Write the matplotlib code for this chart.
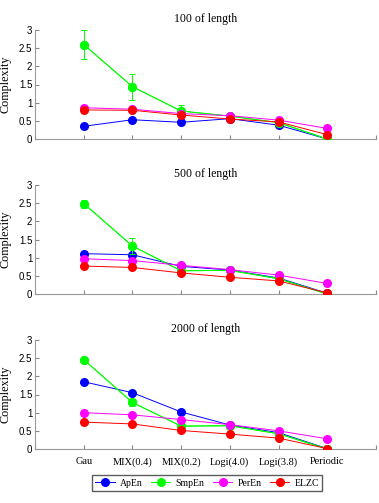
import matplotlib
matplotlib.use("Agg")
import matplotlib.pyplot as plt
import numpy as np

categories = ["Gau", "MIX(0.4)", "MIX(0.2)", "Logi(4.0)", "Logi(3.8)", "Periodic"]
titles = ["100 of length", "500 of length", "2000 of length"]
series_names = ["ApEn", "SmpEn", "PerEn", "ELZC"]
colors = ["#0000ff", "#00ff00", "#ff00ff", "#ff0000"]

apen_100 = [0.35, 0.53, 0.46, 0.56, 0.38, 0.00]
smpen_100 = [2.60, 1.44, 0.77, 0.63, 0.45, 0.00]
peren_100 = [0.86, 0.82, 0.70, 0.64, 0.52, 0.29]
elzc_100 = [0.80, 0.79, 0.66, 0.55, 0.47, 0.12]
smpen_err_100 = [0.40, 0.36, 0.17, 0.03, 0.02, 0.0]

apen_500 = [1.11, 1.08, 0.76, 0.66, 0.44, 0.02]
smpen_500 = [2.49, 1.32, 0.64, 0.65, 0.42, 0.00]
peren_500 = [0.97, 0.92, 0.79, 0.67, 0.52, 0.29]
elzc_500 = [0.77, 0.73, 0.58, 0.46, 0.36, 0.03]
smpen_err_500 = [0.11, 0.22, 0.04, 0.02, 0.02, 0.0]

apen_2000 = [1.85, 1.55, 1.02, 0.66, 0.45, 0.01]
smpen_2000 = [2.46, 1.28, 0.63, 0.64, 0.42, 0.00]
peren_2000 = [1.00, 0.94, 0.81, 0.67, 0.50, 0.28]
elzc_2000 = [0.74, 0.69, 0.51, 0.41, 0.30, 0.01]
smpen_err_2000 = [0.03, 0.10, 0.03, 0.02, 0.02, 0.0]

panels = [
    (apen_100, smpen_100, peren_100, elzc_100, smpen_err_100),
    (apen_500, smpen_500, peren_500, elzc_500, smpen_err_500),
    (apen_2000, smpen_2000, peren_2000, elzc_2000, smpen_err_2000),
]

W, H = 379, 503
fig = plt.figure(figsize=(W / 100, H / 100), dpi=100)
serif = "Liberation Serif"
sans = "Liberation Sans"

tops = [30, 185, 340]
bottoms = [139, 294, 449]
left, right = 35, 376
x = np.arange(1, len(categories) + 1)
handles = []
for i, (vals, top, bot) in enumerate(zip(panels, tops, bottoms)):
    ax = fig.add_axes([left / W, 1 - bot / H, (right - left) / W, (bot - top) / H])
    ap, sm, pe, el, err = vals
    data = [ap, sm, pe, el]
    for j, (d, c, n) in enumerate(zip(data, colors, series_names)):
        if j == 1:
            ax.errorbar(x, d, yerr=err, color=c, lw=0.7, marker="o", ms=5.5,
                        elinewidth=0.7, capsize=2.5, capthick=0.7, zorder=2 + j)
        h, = ax.plot(x, d, color=c, lw=0.7, marker="o", ms=5.5, label=n, zorder=2 + j)
        if i == 0:
            handles.append(h)
    ax.set_xlim(0, 7)
    ax.set_ylim(0, 3)
    ax.set_xticks(np.arange(0, 8))
    if i == 2:
        ax.set_xticklabels([""] + categories + [""], fontfamily=serif, fontsize=7.5)
    else:
        ax.set_xticklabels([""] * 8)
    ax.set_yticks([0, 0.5, 1, 1.5, 2, 2.5, 3])
    ax.set_yticklabels(["0", "0.5", "1", "1.5", "2", "2.5", "3"], fontfamily=sans, fontsize=7)
    ax.tick_params(direction="in", length=3, color="#888888", width=0.8, pad=2)
    ax.tick_params(axis="x", pad=6)
    for s in ["top", "right"]:
        ax.spines[s].set_visible(False)
    for s in ["left", "bottom"]:
        ax.spines[s].set_color("#999999")
        ax.spines[s].set_linewidth(0.8)
    ax.set_title(titles[i], fontfamily=serif, fontsize=8.5, pad=6)
    ax.set_ylabel("Complexity", fontfamily=serif, fontsize=8.7, labelpad=5)

fig.legend(handles=handles, loc="center", bbox_to_anchor=(207 / W, 1 - 483 / H),
           ncol=4, prop={"family": serif, "size": 7}, frameon=True, fancybox=False,
           edgecolor="#333333", handlelength=2.0, columnspacing=0.9, handletextpad=0.5,
           borderpad=0.35)

fig.savefig("out.png", dpi=100)
